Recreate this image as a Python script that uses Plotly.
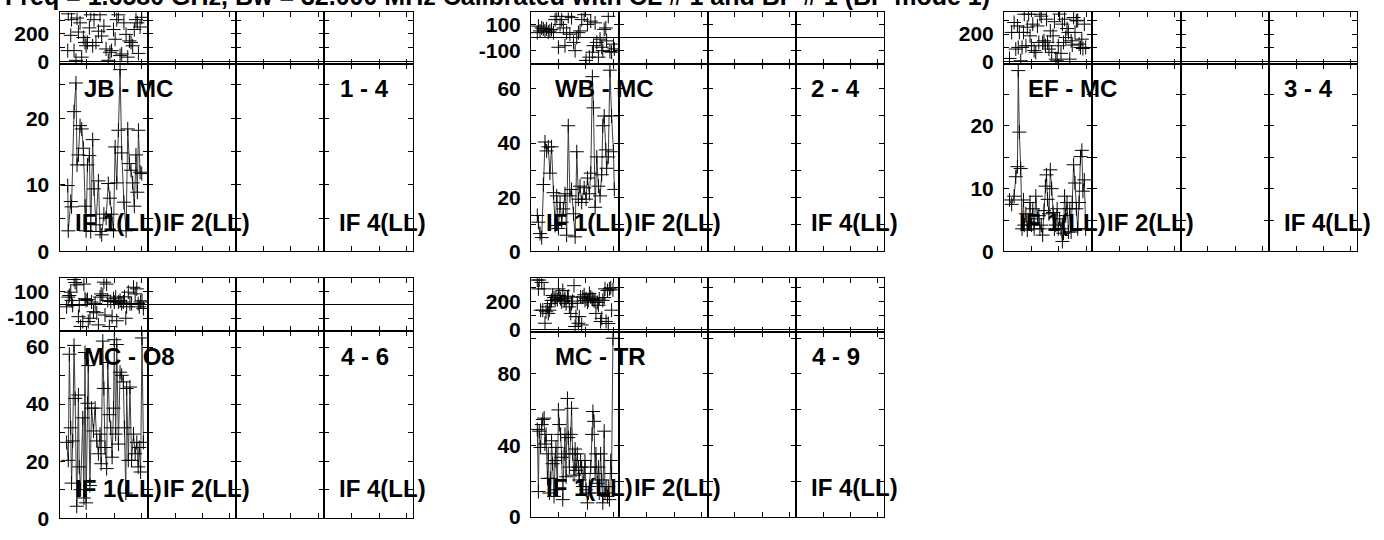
import plotly.graph_objects as go

W, H = 1384, 540
FONT = "Liberation Sans, Arial, Helvetica, sans-serif"

title_text = "Freq = 1.6580 GHz, Bw = 32.000 MHz Calibrated with CL # 1 and BP # 1 (BP mode 1)"
if_labels = ["IF 1(LL)", "IF 2(LL)", "", "IF 4(LL)"]
baselines = ["JB - MC", "WB - MC", "EF - MC", "MC - O8", "MC - TR"]
baseline_nums = ["1 - 4", "2 - 4", "3 - 4", "4 - 6", "4 - 9"]

# ---- JB - MC (1 - 4), IF 1 ----
p1_time = [0.30, 0.32, 0.41, 0.44, 0.53, 0.60, 0.64, 0.69, 0.75, 0.81, 0.87, 0.93, 0.97, 1.02, 1.09,
           1.14, 1.21, 1.26, 1.33, 1.42, 1.48, 1.54, 1.62, 1.70, 1.78, 1.84, 1.90, 1.97, 2.03, 2.09,
           2.15, 2.21, 2.27, 2.35, 2.43, 2.49, 2.55, 2.61, 2.67, 2.73, 2.79, 2.84, 2.88, 2.94, 3.00]
p1_amp = [9.9, 3.1, 7.5, 6.7, 21.0, 25.3, 13.0, 14.5, 18.9, 18.4, 15.5, 6.8, 3.1, 13.0, 14.4,
          3.0, 16.8, 9.4, 4.0, 10.6, 3.0, 2.5, 5.6, 5.0, 10.2, 8.0, 5.6, 3.1, 15.7, 10.3,
          18.2, 27.3, 14.8, 7.4, 3.1, 18.4, 13.2, 12.2, 10.3, 6.8, 14.5, 8.9, 18.2, 11.9, 11.7]
p1_phase = [80, 345, 190, 303, 80, 10, 315, 214, 280, 33, 174, 139, 115, 139, 244,
            338, 115, 303, 139, 220, 338, 185, 256, 92, 10, 68, 80, 232, 162, 303,
            338, 44, 56, 280, 197, 33, 150, 139, 115, 232, 303, 280, 60, 250, 320]

# ---- WB - MC (2 - 4), IF 1 ----
p2_time = [0.23, 0.27, 0.33, 0.39, 0.45, 0.51, 0.57, 0.63, 0.69, 0.75, 0.82, 0.88, 0.94, 1.00, 1.06,
           1.12, 1.18, 1.24, 1.30, 1.36, 1.42, 1.48, 1.55, 1.61, 1.67, 1.73, 1.79, 1.85, 1.94, 2.01,
           2.06, 2.13, 2.18, 2.24, 2.28, 2.34, 2.40, 2.46, 2.52, 2.58, 2.62, 2.67, 2.73, 2.76, 2.82,
           2.88, 2.94, 3.01, 3.04]
p2_amp = [13.3, 10.8, 6.6, 5.1, 24.7, 40.4, 37.1, 38.6, 28.9, 38.6, 21.7, 9.6, 20.5, 8.5, 18.1,
          10.8, 15.7, 21.3, 6.0, 46.4, 20.5, 22.9, 13.9, 5.4, 36.8, 19.3, 24.1, 18.1, 23.5, 19.3,
          27.1, 21.3, 28.9, 64.5, 53.0, 16.3, 34.9, 24.1, 20.5, 28.3, 46.4, 50.0, 37.5, 30.7, 34.9,
          66.9, 50.0, 36.8, 22.9]
p2_phase = [35, 85, 48, 71, 64, 48, 64, 40, 48, 60, 35, 135, 160, -77, 98,
            135, 71, -65, 35, 160, 23, 150, -40, -103, -2, 35, 48, 135, 173, -178,
            98, -153, 123, -115, -65, 110, -40, -153, -15, -77, -103, 60, 71, -28, 160,
            -110, -115, -53, -90]

# ---- EF - MC (3 - 4), IF 1 ----
p3_time = [0.20, 0.28, 0.37, 0.43, 0.49, 0.52, 0.56, 0.61, 0.66, 0.71, 0.74, 0.80, 0.85, 0.90, 0.95,
           1.00, 1.05, 1.10, 1.16, 1.22, 1.27, 1.31, 1.36, 1.41, 1.46, 1.51, 1.55, 1.59, 1.64, 1.69,
           1.74, 1.79, 1.84, 1.89, 1.94, 1.98, 2.03, 2.08, 2.13, 2.17, 2.21, 2.25, 2.30, 2.35, 2.40,
           2.45, 2.49, 2.54, 2.59, 2.64, 2.69, 2.74, 2.79, 2.84, 2.88, 2.93, 2.98]
p3_amp = [8.2, 7.5, 8.8, 11.9, 13.5, 28.8, 19.0, 13.2, 3.6, 8.2, 4.2, 6.0, 3.4, 4.7, 7.8,
          4.2, 6.8, 3.6, 8.8, 5.2, 5.7, 3.6, 4.2, 2.6, 6.5, 10.4, 12.2, 8.3, 6.0, 13.0,
          10.0, 6.2, 3.6, 4.2, 6.8, 3.6, 5.2, 3.6, 1.6, 2.9, 8.8, 5.7, 7.8, 3.1, 6.8,
          3.1, 7.8, 13.8, 10.9, 6.8, 3.6, 7.8, 15.1, 16.1, 9.6, 11.4, 3.6]
p3_phase = [23, 212, 284, 91, 259, 103, 212, 6, 103, 212, 344, 115, 250, 344, 187,
            115, 272, 80, 67, 259, 139, 344, 330, 139, 151, 115, 308, 140, 91, 223,
            67, 187, 290, 18, 6, 115, 345, 60, 272, 139, 308, 175, 240, 212, 18,
            151, 120, 320, 212, 296, 300, 127, 103, 163, 95, 272, 103]

# ---- MC - O8 (4 - 6), IF 1 ----
p4_time = [0.26, 0.32, 0.36, 0.41, 0.44, 0.48, 0.53, 0.57, 0.63, 0.69, 0.72, 0.77, 0.85, 0.89, 0.93,
           0.97, 1.02, 1.05, 1.11, 1.17, 1.24, 1.30, 1.36, 1.42, 1.48, 1.52, 1.58, 1.62, 1.66, 1.72,
           1.76, 1.82, 1.87, 1.92, 1.97, 2.00, 2.05, 2.09, 2.15, 2.21, 2.27, 2.33, 2.37, 2.42, 2.45,
           2.51, 2.57, 2.63, 2.70, 2.76, 2.82, 2.87, 2.91, 2.96, 3.01, 3.06]
p4_amp = [26.6, 20.3, 57.5, 31.7, 12.3, 27.1, 60.6, 42.0, 4.2, 43.2, 18.0, 10.0, 35.2, 7.1, 58.1,
          5.4, 40.3, 53.5, 11.5, 38.6, 30.6, 38.6, 27.1, 22.6, 29.5, 19.1, 62.1, 45.5, 24.8, 17.4,
          54.6, 36.3, 31.7, 21.4, 38.6, 62.6, 29.5, 60.9, 26.0, 51.2, 50.1, 47.8, 31.7, 8.8, 45.5,
          20.3, 46.0, 20.3, 29.5, 22.6, 26.6, 18.0, 24.8, 16.2, 63.2, 26.6]
p4_phase = [-15, 58, 70, 95, 33, -4, 190, 168, 150, -89, -4, -163, -126, 156, 46,
            33, 40, -126, -101, 21, -52, 9, -60, -151, 58, 82, 70, 170, -77, 156,
            33, -163, 25, -89, 46, 21, 58, -120, 21, 33, 9, 21, 60, -101, -15,
            95, 9, 10, 132, 82, 120, 9, -15, 21, 30, -28]

# ---- MC - TR (4 - 9), IF 1 ----
p5_time = [0.23, 0.27, 0.30, 0.35, 0.39, 0.43, 0.48, 0.51, 0.55, 0.60, 0.63, 0.67, 0.72, 0.75, 0.79,
           0.84, 0.88, 0.91, 0.96, 1.00, 1.03, 1.08, 1.12, 1.16, 1.21, 1.24, 1.28, 1.33, 1.36, 1.40,
           1.45, 1.48, 1.52, 1.57, 1.61, 1.64, 1.69, 1.73, 1.76, 1.81, 1.85, 1.89, 1.94, 1.97, 2.01,
           2.06, 2.09, 2.13, 2.18, 2.23, 2.26, 2.30, 2.34, 2.37, 2.42, 2.46, 2.49, 2.54, 2.58, 2.62,
           2.67, 2.70, 2.74, 2.79, 2.82, 2.86, 2.91, 2.94, 2.99]
p5_amp = [49.0, 14.2, 48.0, 38.9, 51.7, 54.5, 55.3, 40.8, 46.2, 21.6, 35.3, 13.4, 21.6, 42.6, 29.8,
          11.5, 31.6, 38.9, 15.2, 59.9, 51.7, 46.2, 33.4, 9.7, 35.3, 46.2, 22.5, 66.3, 44.4, 27.9,
          46.2, 60.8, 35.3, 23.4, 38.0, 26.1, 35.3, 27.9, 20.7, 31.6, 27.9, 17.0, 24.3, 31.6, 15.2,
          7.9, 13.4, 17.0, 27.9, 46.2, 59.0, 53.5, 24.3, 35.3, 18.8, 27.9, 13.4, 35.3, 20.7, 7.9,
          48.0, 13.4, 17.0, 11.5, 17.0, 9.7, 31.6, 24.3, 100.0]
p5_phase = [355, 292, 355, 140, 338, 140, 292, 47, 129, 164, 117, 140, 187, 210, 245,
            230, 210, 234, 215, 292, 245, 222, 200, 280, 210, 225, 187, 234, 240, 164,
            117, 187, 205, 315, 24, 94, 190, 47, 94, 234, 35, 234, 250, 210, 222,
            198, 210, 260, 234, 222, 215, 210, 205, 117, 195, 175, 220, 59, 82, 210,
            230, 292, 60, 280, 45, 292, 300, 140, 285]

# ---- panel geometry (pixels) and axis scales ----
panels = [
    dict(t=p1_time, amp=p1_amp, ph=p1_phase, left=59.5, right=412.5, top=12.7, mid=65.0, bot=256.7,
         prange=[-14, 355], ptick=[0, 100, 200, 300], plab=["0", "", "200", ""],
         arange=[0, 28.2], atick=[0, 5, 10, 15, 20, 25], alab=["0", "", "10", "", "20", ""]),
    dict(t=p2_time, amp=p2_amp, ph=p2_phase, left=531.0, right=884.0, top=12.7, mid=65.0, bot=256.7,
         prange=[-203, 190], ptick=[-100, 0, 100], plab=["-100", "", "100"],
         arange=[0, 69.3], atick=[0, 10, 20, 30, 40, 50, 60], alab=["0", "", "20", "", "40", "", "60"]),
    dict(t=p3_time, amp=p3_amp, ph=p3_phase, left=1004.0, right=1357.0, top=12.0, mid=65.0, bot=256.7,
         prange=[-15, 362], ptick=[0, 100, 200, 300], plab=["0", "", "200", ""],
         arange=[0, 29.9], atick=[0, 5, 10, 15, 20, 25], alab=["0", "", "10", "", "20", ""]),
    dict(t=p4_time, amp=p4_amp, ph=p4_phase, left=59.5, right=412.5, top=284.0, mid=338.3, bot=529.0,
         prange=[-200, 200], ptick=[-100, 0, 100], plab=["-100", "", "100"],
         arange=[0, 65.5], atick=[0, 10, 20, 30, 40, 50, 60], alab=["0", "", "20", "", "40", "", "60"]),
    dict(t=p5_time, amp=p5_amp, ph=p5_phase, left=531.0, right=884.0, top=284.0, mid=338.7, bot=527.7,
         prange=[-14, 368], ptick=[0, 100, 200, 300], plab=["0", "", "200", ""],
         arange=[0, 103.6], atick=[0, 20, 40, 60, 80, 100], alab=["0", "", "40", "", "80", ""]),
]

TRANGE = [0, 3.22]
TTICKS = [1, 2, 3]

tickfont = dict(family=FONT, size=21, color="black", weight="bold")
labfont = dict(family=FONT, size=24, color="black", weight="bold")

fig = go.Figure()
layout = {}
annotations = []


def fx(px):
    return px / W


def fy(py):
    return 1 - py / H


n = 0
for p, pan in enumerate(panels):
    sw = (pan["right"] - pan["left"]) / 4.0
    for k in range(4):
        x0 = pan["left"] + k * sw
        x1 = x0 + sw
        for r in range(2):
            n += 1
            xn = "x" if n == 1 else f"x{n}"
            yn = "y" if n == 1 else f"y{n}"
            xk = "xaxis" if n == 1 else f"xaxis{n}"
            yk = "yaxis" if n == 1 else f"yaxis{n}"
            if r == 0:
                ytop, ybot = pan["top"], pan["mid"]
                yr, tv, tt = pan["prange"], pan["ptick"], pan["plab"]
            else:
                ytop, ybot = pan["mid"], pan["bot"]
                yr, tv, tt = pan["arange"], pan["atick"], pan["alab"]
            layout[xk] = dict(domain=[fx(x0), fx(x1)], range=TRANGE, anchor=yn,
                              showline=True, linecolor="black", linewidth=1, mirror="ticks",
                              ticks="inside", ticklen=5, tickcolor="black", tickwidth=1,
                              tickvals=TTICKS, showticklabels=False, showgrid=False,
                              zeroline=False, fixedrange=True)
            layout[yk] = dict(domain=[fy(ybot), fy(ytop)], range=yr, anchor=xn,
                              showline=True, linecolor="black", linewidth=1, mirror="ticks",
                              ticks="inside", ticklen=5, tickcolor="black", tickwidth=1,
                              tickvals=tv, ticktext=tt, showticklabels=(k == 0),
                              tickfont=tickfont, ticklabelstandoff=5,
                              showgrid=False, zeroline=(r == 0), zerolinecolor="black",
                              zerolinewidth=1, fixedrange=True)
            if k == 0:
                if r == 0:
                    fig.add_trace(go.Scatter(
                        x=pan["t"], y=pan["ph"], mode="markers", xaxis=xn, yaxis=yn,
                        marker=dict(symbol="cross-thin", size=10, color="black",
                                    line=dict(color="black", width=1)),
                        showlegend=False, hoverinfo="skip"))
                else:
                    fig.add_trace(go.Scatter(
                        x=pan["t"], y=pan["amp"], mode="lines+markers", xaxis=xn, yaxis=yn,
                        line=dict(color="#3c3c3c", width=1),
                        marker=dict(symbol="cross-thin", size=10, color="black",
                                    line=dict(color="black", width=1)),
                        showlegend=False, hoverinfo="skip"))
            else:
                fig.add_trace(go.Scatter(x=[], y=[], xaxis=xn, yaxis=yn,
                                         showlegend=False, hoverinfo="skip"))
        # IF labels at the bottom of each amplitude box
        if if_labels[k]:
            annotations.append(dict(text=if_labels[k], xref="paper", yref="paper",
                                    x=fx(x0 + 13), y=fy(pan["bot"] - 30),
                                    xanchor="left", yanchor="middle", showarrow=False,
                                    font=labfont))
    # baseline names
    annotations.append(dict(text=baselines[p], xref="paper", yref="paper",
                            x=fx(pan["left"] + 22), y=fy(pan["mid"] + 25.5),
                            xanchor="left", yanchor="middle", showarrow=False, font=labfont))
    annotations.append(dict(text=baseline_nums[p], xref="paper", yref="paper",
                            x=fx(pan["right"] - 22), y=fy(pan["mid"] + 25.5),
                            xanchor="right", yanchor="middle", showarrow=False, font=labfont))

annotations.append(dict(text=title_text, xref="paper", yref="paper",
                        x=fx(3), y=fy(-4), xanchor="left", yanchor="middle",
                        showarrow=False, font=dict(family=FONT, size=25, color="black",
                                                   weight="bold")))

fig.update_layout(**layout)
fig.update_layout(width=W, height=H, margin=dict(l=0, r=0, t=0, b=0),
                  paper_bgcolor="white", plot_bgcolor="white",
                  annotations=annotations, showlegend=False)

fig.write_html("out.html", config={"displayModeBar": False},
               post_script="document.body.style.margin='0';")
